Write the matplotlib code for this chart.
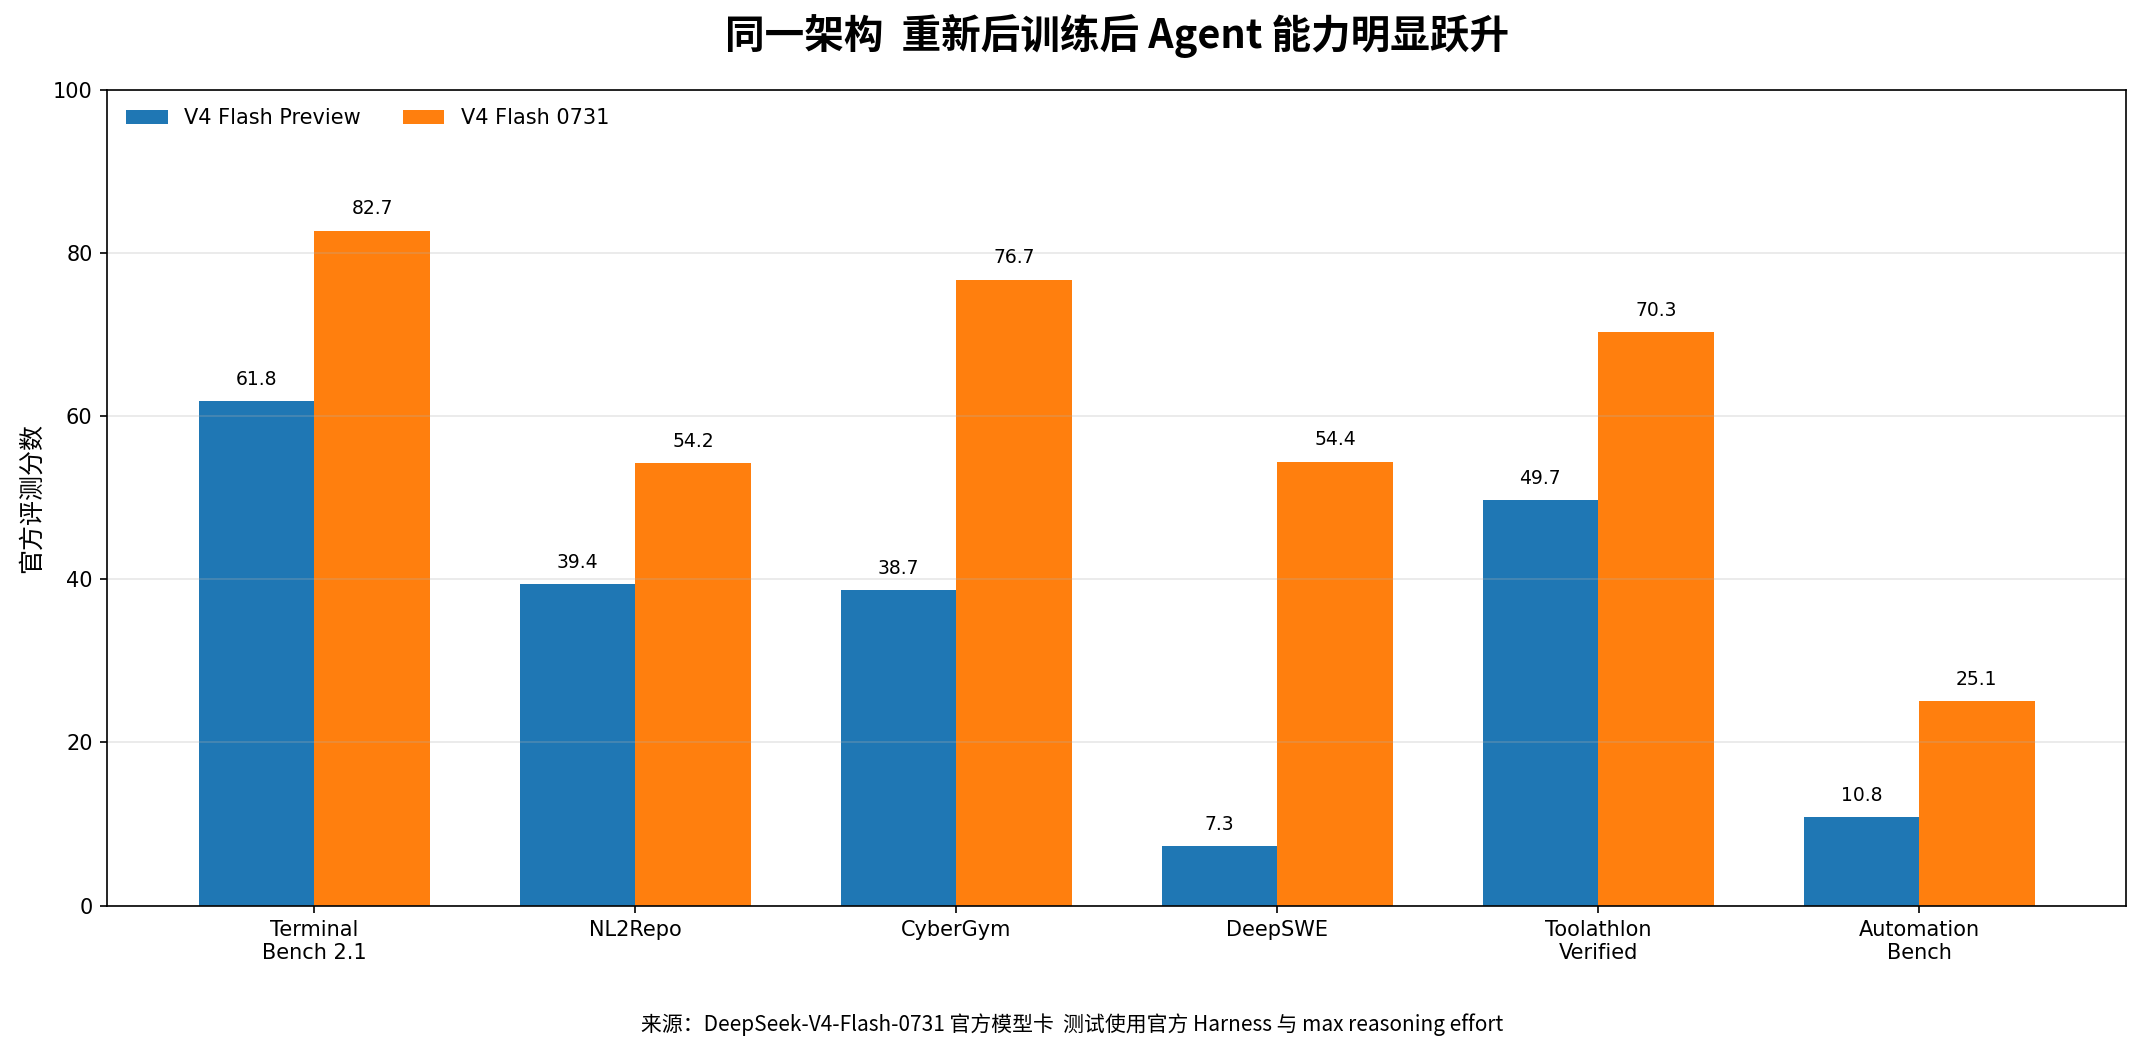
import numpy as np
import matplotlib
matplotlib.use("Agg")
import matplotlib.pyplot as plt

plt.rcParams['font.family'] = ['DejaVu Sans', 'Noto Sans CJK SC']

# data
benchmarks = ["Terminal\nBench 2.1", "NL2Repo", "CyberGym", "DeepSWE",
              "Toolathlon\nVerified", "Automation\nBench"]
preview_scores = [61.8, 39.4, 38.7, 7.3, 49.7, 10.8]
new_scores = [82.7, 54.2, 76.7, 54.4, 70.3, 25.1]
series_names = ["V4 Flash Preview", "V4 Flash 0731"]

cjk = ['Noto Sans CJK SC', 'DejaVu Sans']

fig, ax = plt.subplots(figsize=(14.29, 7.02), dpi=150)
fig.subplots_adjust(left=0.05, right=0.992, top=0.915, bottom=0.14)

x = np.arange(len(benchmarks))
width = 0.36

bars1 = ax.bar(x - width / 2, preview_scores, width, label=series_names[0], color="#1f77b4")
bars2 = ax.bar(x + width / 2, new_scores, width, label=series_names[1], color="#ff7f0e")

# value labels on top of each bar
for bars in (bars1, bars2):
    for b in bars:
        h = b.get_height()
        ax.text(b.get_x() + b.get_width() / 2, h + 1.5, f"{h:.1f}",
                ha="center", va="bottom", fontsize=9)

ax.set_xticks(x)
ax.set_xticklabels(benchmarks, fontsize=10)
ax.set_ylim(0, 100)
ax.set_ylabel("官方评测分数", fontsize=12, family=cjk)
ax.grid(axis="y", alpha=0.3)
ax.legend(loc="upper left", ncol=2, frameon=False, fontsize=10)

ax.set_title("同一架构  重新后训练后 Agent 能力明显跃升", fontsize=19,
             fontweight="bold", family=cjk, pad=20)
fig.text(0.5, 0.027, "来源：DeepSeek-V4-Flash-0731 官方模型卡  测试使用官方 Harness 与 max reasoning effort",
         ha="center", va="center", fontsize=10, family=cjk)

fig.savefig("out.png", dpi=150)
